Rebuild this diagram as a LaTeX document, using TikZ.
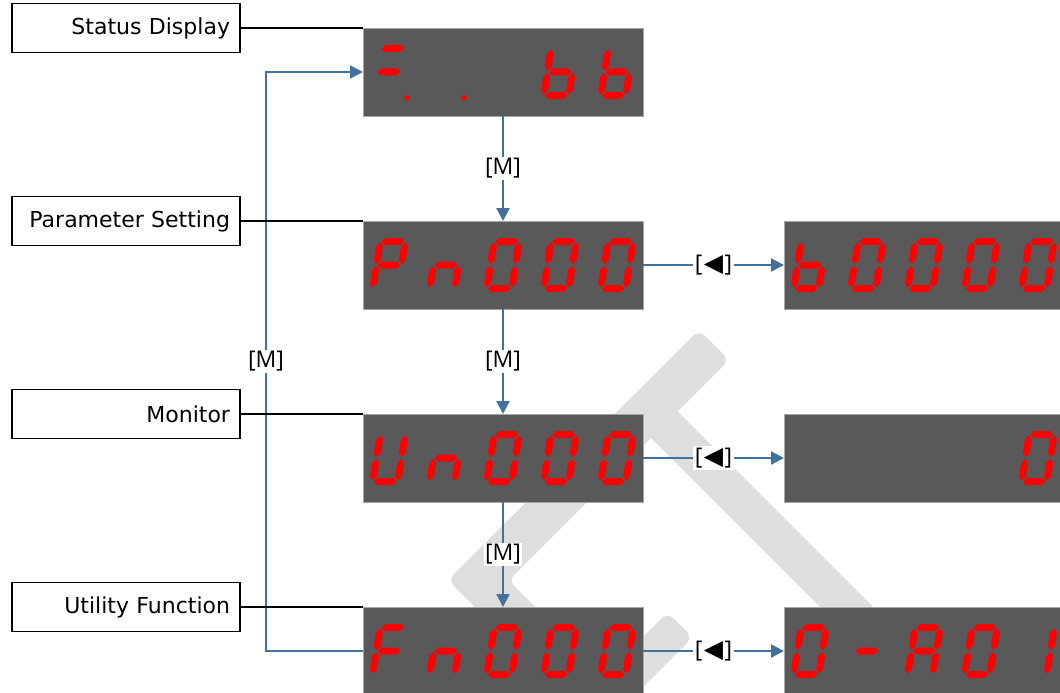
\documentclass[tikz,border=0pt]{standalone}
\usepackage{fontspec}
\setmainfont{DejaVu Sans}
\newfontfamily\osans{Open Sans}
\newfontfamily\djv{DejaVu Sans}
\usetikzlibrary{arrows.meta}

\definecolor{segred}{HTML}{FF0000}
\definecolor{dispgray}{HTML}{595959}
\definecolor{dispedge}{HTML}{A6A6A6}
\definecolor{flowblue}{HTML}{41719C}
\definecolor{wmgray}{HTML}{DEDEDE}

% seven segment pieces (local px units, y down, centre origin)
\newcommand\sgA{\fill[segred] (-11.3,-23.5) -- (-7.8,-27) -- (7.8,-27) -- (11.3,-23.5) -- (7.8,-20) -- (-7.8,-20) -- cycle;}
\newcommand\sgG{\fill[segred] (-11.3,0) -- (-7.8,-3.5) -- (7.8,-3.5) -- (11.3,0) -- (7.8,3.5) -- (-7.8,3.5) -- cycle;}
\newcommand\sgD{\fill[segred] (-11.3,23.5) -- (-7.8,20) -- (7.8,20) -- (11.3,23.5) -- (7.8,27) -- (-7.8,27) -- cycle;}
\newcommand\sgB{\fill[segred] (12.5,-22.3) -- (16,-18.8) -- (16,-4.7) -- (12.5,-1.2) -- (9,-4.7) -- (9,-18.8) -- cycle;}
\newcommand\sgC{\fill[segred] (12.5,1.2) -- (16,4.7) -- (16,18.8) -- (12.5,22.3) -- (9,18.8) -- (9,4.7) -- cycle;}
\newcommand\sgF{\fill[segred] (-12.5,-22.3) -- (-9,-18.8) -- (-9,-4.7) -- (-12.5,-1.2) -- (-16,-4.7) -- (-16,-18.8) -- cycle;}
\newcommand\sgE{\fill[segred] (-12.5,1.2) -- (-9,4.7) -- (-9,18.8) -- (-12.5,22.3) -- (-16,18.8) -- (-16,4.7) -- cycle;}
\newcommand\ssdigit[3]{\begin{scope}[shift={(#1,#2)},xslant=0.16]\foreach \s in {#3}{\csname sg\s\endcsname}\end{scope}}
\newcommand\keyleft{[\hspace{1.5pt}{\djv\fontsize{25}{26}\selectfont ◀}\hspace{1.5pt}]}

\begin{document}
\begin{tikzpicture}[x=1pt,y=-1pt,
  disp/.style={draw=dispedge, line width=0.8pt, fill=dispgray, minimum width=280pt, minimum height=88pt, inner sep=0pt, outer sep=0pt},
  lbl/.style={draw=black, line width=1.3pt, fill=white, minimum height=49pt, text width=208pt, align=right, inner xsep=10pt, inner ysep=0pt, outer sep=0pt, font=\fontsize{22}{26}\selectfont},
  flow/.style={draw=flowblue, line width=2.2pt, -{Triangle[length=13pt,width=13pt]}},
  conn/.style={draw=black, line width=1.2pt},
  mlbl/.style={fill=white, inner sep=1.5pt, font=\osans\fontsize{23}{25}\selectfont},
  dp/.style={fill=segred}]
\useasboundingbox (0,0) rectangle (1060,693);

% watermark
\begin{scope}
\clip (0,0) rectangle (1060,693);
\fill[wmgray, rounded corners=8pt] (699,330) -- (729,360) -- (508.5,580.5) -- (688,760) -- (628,760) -- (448,580) -- cycle;
\fill[wmgray, rounded corners=4pt] (626.5,413.5) -- (653,387) -- (1026,760) -- (973,760) -- cycle;
\fill[wmgray, rounded corners=8pt] (667.5,612.5) -- (692.5,637.5) -- (570,760) -- (520,760) -- cycle;
\end{scope}

% displays
\node[disp] (s0) at (503,72) {};
\node[disp] (p0) at (503,265) {};
\node[disp] (u0) at (503,458) {};
\node[disp] (f0) at (503,651) {};
\node[disp] (p1) at (924,265) {};
\node[disp] (u1) at (924,458) {};
\node[disp] (f1) at (924,651) {};

% label boxes
\node[lbl] (l0) at (126,28) {Status Display};
\node[lbl] (l1) at (126,221) {Parameter Setting};
\node[lbl] (l2) at (126,414) {Monitor};
\node[lbl] (l3) at (126,607) {Utility Function};

% digits: status
\ssdigit{389}{72}{A,G}
\fill[dp] (407,98) circle (2.8);
\fill[dp] (464,98) circle (2.8);
\ssdigit{560}{72}{C,D,E,F,G}
\ssdigit{617}{72}{C,D,E,F,G}
% Pn000
\ssdigit{389}{265}{A,B,E,F,G}
\ssdigit{446}{265}{C,E,G}
\foreach \xx in {503,560,617} {\ssdigit{\xx}{265}{A,B,C,D,E,F}}
% b0000
\ssdigit{810}{265}{C,D,E,F,G}
\foreach \xx in {867,924,981,1038} {\ssdigit{\xx}{265}{A,B,C,D,E,F}}
% Un000
\ssdigit{389}{458}{B,C,D,E,F}
\ssdigit{446}{458}{C,E,G}
\foreach \xx in {503,560,617} {\ssdigit{\xx}{458}{A,B,C,D,E,F}}
\ssdigit{1038}{458}{A,B,C,D,E,F}
% Fn000
\ssdigit{389}{651}{A,E,F,G}
\ssdigit{446}{651}{C,E,G}
\foreach \xx in {503,560,617} {\ssdigit{\xx}{651}{A,B,C,D,E,F}}
% 0-A01
\ssdigit{810}{651}{A,B,C,D,E,F}
\ssdigit{867}{651}{G}
\ssdigit{924}{651}{A,B,C,E,F,G}
\ssdigit{981}{651}{A,B,C,D,E,F}
\ssdigit{1038}{651}{B,C}

% loop coordinates
\coordinate (lb) at (266,651);
\coordinate (lt) at (266,72);

% flow arrows
\draw[flow] (s0.south) -- node[mlbl]{[M]} (p0.north);
\draw[flow] (p0.south) -- node[mlbl]{[M]} (u0.north);
\draw[flow] (u0.south) -- node[mlbl]{[M]} (f0.north);
\draw[flow] (f0.west) -- (lb) -- node[mlbl]{[M]} (lt) -- (s0.west);
\draw[flow] (p0.east) -- node[mlbl]{\keyleft} (p1.west);
\draw[flow] (u0.east) -- node[mlbl]{\keyleft} (u1.west);
\draw[flow] (f0.east) -- node[mlbl]{\keyleft} (f1.west);

% label connectors
\draw[conn] (l0.east) -- (s0.north west);
\draw[conn] (l1.east) -- (p0.north west);
\draw[conn] (l2.east) -- (u0.north west);
\draw[conn] (l3.east) -- (f0.north west);
\end{tikzpicture}
\end{document}
